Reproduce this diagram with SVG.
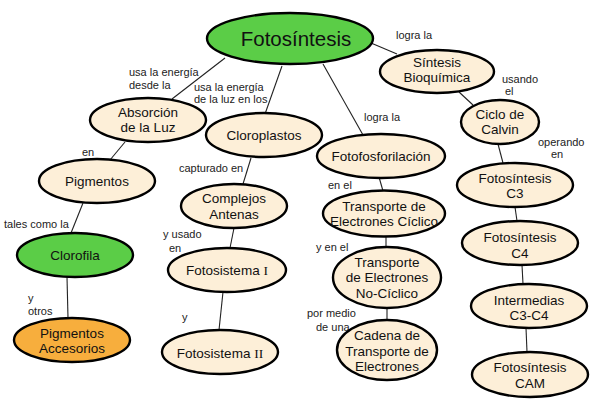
<svg xmlns="http://www.w3.org/2000/svg" width="602" height="410" viewBox="0 0 602 410">
<style>
.n ellipse{fill:#FDEFD8;stroke:#000;stroke-width:2.4}
.g ellipse{fill:#5BCD47}
.o ellipse{fill:#F7AE3D}
.n text{font-family:"Liberation Sans",Arial,sans-serif;font-size:13.5px;fill:#111;text-anchor:middle}
.r{font-family:"Liberation Serif","Times New Roman",serif}
#links line{stroke:#222;stroke-width:1.1}
.l{font-family:"Liberation Sans",Arial,sans-serif;font-size:11px;fill:#222}
</style>
<rect width="602" height="410" fill="#fff"/>
<g id="links">
<line x1="225" y1="58" x2="172" y2="99"/>
<line x1="282" y1="66" x2="265" y2="114"/>
<line x1="323" y1="64" x2="363" y2="135"/>
<line x1="371" y1="43" x2="397" y2="54"/>
<line x1="459" y1="92" x2="473" y2="105"/>
<line x1="498" y1="144" x2="503" y2="163"/>
<line x1="125" y1="142" x2="110" y2="160"/>
<line x1="251" y1="158" x2="243" y2="184"/>
<line x1="379" y1="177" x2="383" y2="191"/>
<line x1="83" y1="203" x2="71" y2="233"/>
<line x1="67" y1="277" x2="68" y2="318"/>
<line x1="234" y1="228" x2="230" y2="248"/>
<line x1="223" y1="292" x2="219" y2="330"/>
<line x1="386" y1="236" x2="386" y2="247"/>
<line x1="387" y1="307" x2="387" y2="320"/>
<line x1="515" y1="207" x2="517" y2="221"/>
<line x1="522" y1="265" x2="523" y2="284"/>
<line x1="526" y1="328" x2="527" y2="352"/>
</g>
<g id="labels">
<text class="l" x="129" y="76">usa la energía</text>
<text class="l" x="129" y="89">desde la</text>
<text class="l" x="194" y="91">usa la energía</text>
<text class="l" x="194" y="103">de la luz en los</text>
<text class="l" x="82" y="156">en</text>
<text class="l" x="179" y="172">capturado en</text>
<text class="l" x="396" y="39">logra la</text>
<text class="l" x="502" y="83">usando</text>
<text class="l" x="505" y="95">el</text>
<text class="l" x="364" y="121">logra la</text>
<text class="l" x="538" y="146">operando</text>
<text class="l" x="551" y="158">en</text>
<text class="l" x="328" y="189">en el</text>
<text class="l" x="4" y="228">tales como la</text>
<text class="l" x="163" y="238">y usado</text>
<text class="l" x="169" y="252">en</text>
<text class="l" x="28" y="302">y</text>
<text class="l" x="28" y="315">otros</text>
<text class="l" x="182" y="321">y</text>
<text class="l" x="316" y="251">y en el</text>
<text class="l" x="307" y="317">por medio</text>
<text class="l" x="316" y="331">de una</text>
</g>
<g id="fotosintesis" class="n g"><ellipse cx="290" cy="38.5" rx="83" ry="25.5"/><text x="296" y="46" style="font-size:20.5px">Fotosíntesis</text></g>
<g id="sintesis" class="n"><ellipse cx="437" cy="71.5" rx="57" ry="21.5"/><text x="437" y="67">Síntesis</text><text x="437" y="82">Bioquímica</text></g>
<g id="absorcion" class="n"><ellipse cx="148" cy="120" rx="58" ry="22"/><text x="148" y="117">Absorción</text><text x="148" y="132">de la Luz</text></g>
<g id="cloroplastos" class="n"><ellipse cx="264" cy="135" rx="58" ry="22"/><text x="264" y="140">Cloroplastos</text></g>
<g id="ciclo" class="n"><ellipse cx="500" cy="122" rx="39" ry="22"/><text x="500" y="119">Ciclo de</text><text x="500" y="134">Calvin</text></g>
<g id="fotofosforilacion" class="n"><ellipse cx="381" cy="156" rx="64" ry="22"/><text x="381" y="161">Fotofosforilación</text></g>
<g id="pigmentos" class="n"><ellipse cx="97" cy="181" rx="58" ry="22"/><text x="97" y="186">Pigmentos</text></g>
<g id="complejos" class="n"><ellipse cx="234" cy="206" rx="53" ry="22"/><text x="234" y="203">Complejos</text><text x="234" y="219">Antenas</text></g>
<g id="c3" class="n"><ellipse cx="515" cy="185" rx="58" ry="22"/><text x="515" y="183">Fotosíntesis</text><text x="515" y="198">C3</text></g>
<g id="ciclico" class="n"><ellipse cx="384" cy="213.5" rx="61" ry="23"/><text x="384" y="211">Transporte de</text><text x="384" y="226">Electrones Cíclico</text></g>
<g id="clorofila" class="n g"><ellipse cx="75" cy="255" rx="58" ry="22"/><text x="75" y="260">Clorofila</text></g>
<g id="fotosistema1" class="n"><ellipse cx="227" cy="270" rx="59" ry="22"/><text x="227" y="275">Fotosistema <tspan class="r">I</tspan></text></g>
<g id="c4" class="n"><ellipse cx="520" cy="243" rx="58" ry="22"/><text x="520" y="242">Fotosíntesis</text><text x="520" y="258">C4</text></g>
<g id="nociclico" class="n"><ellipse cx="387" cy="277.5" rx="54" ry="30.5"/><text x="387" y="267">Transporte</text><text x="387" y="282">de Electrones</text><text x="387" y="298">No-Cíclico</text></g>
<g id="intermedias" class="n"><ellipse cx="529" cy="306" rx="58" ry="22"/><text x="529" y="305">Intermedias</text><text x="529" y="320">C3-C4</text></g>
<g id="accesorios" class="n o"><ellipse cx="72" cy="340" rx="58" ry="22"/><text x="72" y="338">Pigmentos</text><text x="72" y="353">Accesorios</text></g>
<g id="fotosistema2" class="n"><ellipse cx="220" cy="352" rx="58" ry="22"/><text x="220" y="358">Fotosistema <tspan class="r">II</tspan></text></g>
<g id="cadena" class="n"><ellipse cx="387" cy="350" rx="50" ry="30"/><text x="387" y="340">Cadena de</text><text x="387" y="356">Transporte de</text><text x="387" y="371">Electrones</text></g>
<g id="cam" class="n"><ellipse cx="530" cy="374.5" rx="58" ry="22.5"/><text x="530" y="372">Fotosíntesis</text><text x="530" y="388">CAM</text></g>
</svg>
